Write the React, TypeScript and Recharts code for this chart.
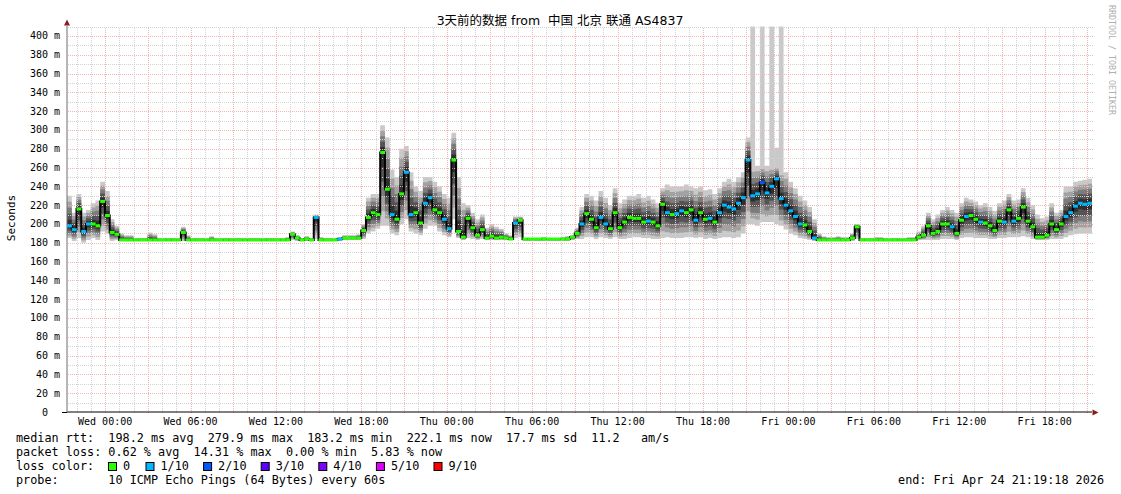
import React from 'react';
import { ComposedChart, Area, Line, XAxis, YAxis, ReferenceLine } from 'recharts';

// ---------- data (20-minute steps over 72 hours, values in ms) ----------
const medianRtt = [
  198, 194, 216, 192, 200, 200, 198, 224, 209, 191, 189, 183,
  183, 183, 183, 183, 183, 183, 183, 183, 183, 183, 183, 183,
  191, 183,
  183, 183, 183, 183, 183, 183, 183, 183, 183, 183, 183, 183, 183, 183, 183, 183, 183, 183, 183, 183, 183,
  189, 185, 183, 184, 183, 207, 183, 183, 183, 183, 184,
  185, 185, 185, 185, 193, 207, 212, 210, 276, 237, 210, 205, 232, 255, 210, 212, 201, 222, 228, 215,
  212, 205, 195, 268, 192, 186, 206, 196, 188, 194, 185, 187, 185, 186, 185, 184, 201, 204,
  184, 184, 184, 184, 184, 184, 184, 184, 184, 184, 186, 190,
  200, 211, 205, 196, 207, 200, 195, 212, 196, 202, 207, 206, 206, 202, 203, 202, 198, 221, 212, 210,
  211, 214, 212, 215, 204, 212, 205, 206, 202, 212, 220, 218, 216, 222, 228, 268, 230, 232, 244, 233,
  240, 248, 227, 220, 214, 208, 200, 199, 192, 185, 183,
  183, 183, 183, 183, 183, 183, 185, 197,
  183, 183, 183, 183, 183, 183, 183, 183, 183, 183, 183, 183,
  186, 188, 198, 190, 192, 200, 200, 197, 190, 204, 208, 209, 205, 202, 201, 198, 193, 203, 202, 215,
  203, 206, 218, 203, 197, 186, 186, 188, 200, 194, 200, 208, 212, 219, 222, 221, 222,
];

const smokeLow = [
  185, 182, 185, 180, 183, 185, 183, 192, 190, 182, 183, 182,
  182, 182, 182, 182, 182, 182, 182, 182, 182, 182, 182, 182,
  182, 182,
  182, 182, 182, 182, 182, 182, 182, 182, 182, 182, 182, 182, 182, 182, 182, 182, 182, 182, 182, 182, 182,
  183, 182, 182, 182, 182, 184, 182, 182, 182, 182, 182,
  183, 183, 183, 183, 184, 190, 192, 195, 198, 198, 190, 188, 200, 205, 192, 190, 188, 195, 198, 198,
  192, 188, 186, 205, 185, 183, 185, 184, 183, 184, 183, 183, 183, 183, 183, 183, 185, 186,
  182, 182, 182, 182, 182, 182, 182, 182, 182, 182, 183, 184,
  184, 186, 186, 184, 186, 185, 184, 186, 184, 184, 185, 186, 186, 185, 185, 184, 184, 185, 186, 185,
  185, 185, 186, 186, 185, 186, 184, 185, 184, 185, 186, 186, 185, 186, 190, 200, 200, 198, 202, 202,
  202, 200, 198, 194, 190, 188, 185, 184, 183, 182, 182,
  182, 182, 182, 182, 182, 182, 182, 184,
  182, 182, 182, 182, 182, 182, 182, 182, 182, 182, 182, 182,
  183, 183, 183, 183, 183, 184, 184, 184, 183, 185, 186, 186, 185, 185, 185, 184, 184, 185, 185, 186,
  186, 186, 187, 186, 184, 183, 183, 183, 184, 184, 184, 186, 188, 189, 190, 190, 190,
];

const smokeHigh = [
  230, 212, 232, 212, 215, 222, 225, 245, 235, 205, 198, 190,
  188, 188, 185, 185, 185, 191, 189, 185, 185, 185, 185, 185,
  197, 188,
  185, 185, 185, 185, 187, 185, 185, 185, 185, 185, 185, 185, 185, 185, 185, 185, 185, 185, 185, 185, 186,
  192, 188, 185, 187, 185, 210, 186, 185, 185, 185, 186,
  188, 188, 188, 189, 200, 228, 232, 232, 305, 292, 258, 250, 280, 283, 255, 240, 235, 250, 250, 245,
  240, 232, 228, 297, 250, 222, 220, 212, 205, 210, 196, 200, 197, 195, 190, 188, 208, 208,
  185, 185, 185, 185, 186, 185, 185, 185, 186, 187, 188, 196,
  218, 232, 230, 225, 235, 228, 220, 238, 222, 226, 230, 230, 232, 228, 230, 226, 222, 238, 242, 240,
  240, 240, 242, 240, 238, 240, 236, 237, 232, 238, 245, 248, 245, 250, 255, 292, 262, 262, 262, 262,
  262, 262, 258, 255, 245, 238, 230, 225, 218, 205, 190,
  187, 186, 186, 187, 186, 186, 190, 200,
  185, 185, 185, 186, 186, 185, 185, 185, 185, 185, 186, 186,
  192, 198, 212, 205, 210, 215, 218, 215, 212, 222, 228, 226, 224, 220, 222, 218, 214, 222, 225, 232,
  225, 226, 238, 228, 220, 210, 206, 208, 222, 212, 215, 240, 240, 245, 246, 247, 248,
];

// index into lossLegend / lossColors
const lossLevel = [
  1, 1, 0, 1, 1, 0, 0, 0, 0, 0, 0, 0,
  0, 0, 0, 0, 0, 0, 0, 0, 0, 0, 0, 0,
  0, 0,
  0, 0, 0, 0, 0, 0, 0, 0, 0, 0, 0, 0, 0, 0, 0, 0, 0, 0, 0, 0, 0,
  0, 0, 0, 0, 0, 1, 0, 0, 0, 0, 1,
  0, 0, 0, 0, 0, 0, 0, 0, 0, 0, 1, 0, 0, 1, 1, 0, 0, 1, 1, 0,
  0, 1, 1, 0, 0, 0, 0, 0, 0, 0, 0, 0, 0, 0, 0, 0, 1, 0,
  0, 0, 0, 0, 0, 0, 0, 0, 0, 0, 0, 0,
  1, 0, 0, 0, 1, 1, 0, 0, 0, 0, 0, 0, 0, 0, 1, 0, 0, 0, 1, 0,
  1, 1, 0, 0, 1, 0, 0, 1, 0, 1, 1, 1, 1, 1, 1, 1, 1, 1, 2, 1,
  1, 1, 1, 1, 1, 1, 1, 0, 0, 1, 0,
  0, 0, 0, 0, 0, 0, 0, 0,
  0, 0, 0, 0, 0, 0, 0, 0, 0, 0, 0, 0,
  0, 0, 0, 0, 0, 0, 0, 1, 0, 0, 1, 0, 0, 1, 0, 0, 0, 0, 1, 0,
  1, 0, 0, 0, 0, 0, 0, 0, 0, 0, 0, 1, 1, 1, 1, 1, 1,
];

// single outlier pings far above the smoke
const outlierIdx = [144, 146, 148, 149, 150];
const outlierTop = [410, 410, 410, 281, 410];

const lossLegend = ['0', '1/10', '2/10', '3/10', '4/10', '5/10', '9/10'];
const lossColors = ['#26ff00', '#00b8ff', '#0059ff', '#5e00ff', '#7e00ff', '#dd00ff', '#ff0000'];

const xTickLabels = [
  'Wed 00:00', 'Wed 06:00', 'Wed 12:00', 'Wed 18:00',
  'Thu 00:00', 'Thu 06:00', 'Thu 12:00', 'Thu 18:00',
  'Fri 00:00', 'Fri 06:00', 'Fri 12:00', 'Fri 18:00',
];
const yTicks = [0, 20, 40, 60, 80, 100, 120, 140, 160, 180, 200, 220, 240, 260, 280, 300, 320, 340, 360, 380, 400];

const titleText = '3天前的数据 from  中国 北京 联通 AS4837';
const legendRtt = 'median rtt:  198.2 ms avg  279.9 ms max  183.2 ms min  222.1 ms now  17.7 ms sd  11.2   am/s';
const legendLoss = 'packet loss: 0.62 % avg  14.31 % max  0.00 % min  5.83 % now';
const legendProbe = 'probe:       10 ICMP Echo Pings (64 Bytes) every 60s';
const endText = 'end: Fri Apr 24 21:19:18 2026';

// ---------- layout ----------
const W = 1121;
const H = 494;
const MARGIN = { top: 26, right: 29, bottom: 52, left: 8 };
const Y_AXIS_W = 59;
const X_AXIS_H = 30;
const PLOT_LEFT = MARGIN.left + Y_AXIS_W;
const PLOT_RIGHT = W - MARGIN.right;
const PLOT_BOTTOM = H - MARGIN.bottom - X_AXIS_H;
const PLOT_W = PLOT_RIGHT - PLOT_LEFT;

const SPAN_HOURS = 72;
const START_HOUR = 21 + 19 / 60 + 18 / 3600; // Tue 21:19:18
const Y_MAX = 410.6;

const MONO = "'DejaVu Sans Mono', monospace";
const RED_GRID = '#f6b4b4';
const GRAY_GRID = '#d2d2d2';

const N = medianRtt.length;
const STEP_H = SPAN_HOURS / N;
const STEP_PX = PLOT_W / N;

const BANDS = [
  { f: 1, color: '#c9c9c9' },
  { f: 0.8, color: '#a2a2a2' },
  { f: 0.6, color: '#7c7c7c' },
  { f: 0.4, color: '#545454' },
  { f: 0.2, color: '#2e2e2e' },
];

const rows: any[] = [];
for (let i = 0; i <= N; i++) {
  const j = Math.min(i, N - 1);
  const m = medianRtt[j];
  const lo = smokeLow[j];
  const hi = smokeHigh[j];
  const k0 = outlierIdx.indexOf(j);
  const row: any = { t: i * STEP_H, median: m, loss: lossLevel[j] };
  BANDS.forEach((b, k) => {
    const top = k === 0 && k0 >= 0 ? outlierTop[k0] : m + b.f * (hi - m);
    row['b' + k] = [m - b.f * (m - lo), top];
  });
  rows.push(row);
}

const firstMidnight = 24 - START_HOUR;
const labelTimes = xTickLabels.map((_, i) => firstMidnight + 6 * i);
const firstHour = Math.ceil(START_HOUR) - START_HOUR;
const hourLines: { t: number; major: boolean }[] = [];
for (let t = firstHour; t < SPAN_HOURS; t += 1) {
  const hod = Math.round(START_HOUR + t) % 24;
  hourLines.push({ t, major: hod % 3 === 0 });
}
const valueLines: { v: number; major: boolean }[] = [];
for (let v = 10; v <= Y_MAX; v += 10) valueLines.push({ v, major: v % 20 === 0 });

const snap = (v: number) => Math.round(v) + 0.5;
const keepSpaces = (s: string) => s.replace(/ /g, '\u00a0');

const gridShape = (color: string) => (p: any) => (
  <line
    x1={snap(p.x1)}
    y1={snap(p.y1)}
    x2={snap(p.x2)}
    y2={snap(p.y2)}
    stroke={color}
    strokeWidth={1}
    strokeDasharray="1 1"
    shapeRendering="crispEdges"
  />
);

const YTick = (props: any) => {
  const { x, y, payload } = props;
  const v = payload.value;
  const label = v === 0 ? '0' : `${v} m`;
  return (
    <text x={v === 0 ? x - 12 : x} y={y + 3.5} textAnchor="end" fontFamily={MONO} fontSize={10} fill="#000">
      {keepSpaces(label)}
    </text>
  );
};

const XTick = (props: any) => {
  const { x, y, payload } = props;
  const idx = labelTimes.findIndex((t) => Math.abs(t - payload.value) < 1e-6);
  return (
    <text x={x} y={y + 7} textAnchor="middle" fontFamily={MONO} fontSize={10} fill="#000">
      {idx >= 0 ? keepSpaces(xTickLabels[idx]) : ''}
    </text>
  );
};

const LossDot = (props: any) => {
  const { cx, cy, index } = props;
  if (index >= N || cx == null || cy == null) return <g key={`e${index}`} />;
  return (
    <rect
      key={`l${index}`}
      x={cx}
      y={cy - 1.5}
      width={STEP_PX + 0.2}
      height={3}
      fill={lossColors[lossLevel[index]]}
    />
  );
};

export default function App() {
  const legendX = 16;
  const boxX = [108, 145.5, 203.1, 260.7, 318.3, 375.9, 433.5];
  return (
    <div style={{ position: 'absolute', left: 0, top: 0, width: W, height: H, background: '#fff' }}>
      <div style={{ position: 'absolute', left: 0, top: 0 }}>
        <ComposedChart width={W} height={H} data={rows} margin={MARGIN}>
          <XAxis
            type="number"
            dataKey="t"
            domain={[0, SPAN_HOURS]}
            allowDataOverflow
            ticks={labelTimes}
            interval={0}
            height={X_AXIS_H}
            tickSize={0}
            tickMargin={6}
            tickLine={false}
            axisLine={{ stroke: '#000', strokeWidth: 1 }}
            tick={<XTick />}
          />
          <YAxis
            type="number"
            domain={[0, Y_MAX]}
            allowDataOverflow
            ticks={yTicks}
            interval={0}
            width={Y_AXIS_W}
            tickSize={0}
            tickMargin={7}
            tickLine={false}
            axisLine={{ stroke: '#6e6e6e', strokeWidth: 1 }}
            tick={<YTick />}
          />
          {BANDS.map((b, k) => (
            <Area
              key={'band' + k}
              type="stepAfter"
              dataKey={'b' + k}
              stroke="none"
              fill={b.color}
              fillOpacity={1}
              isAnimationActive={false}
              dot={false}
              activeDot={false}
            />
          ))}
          {valueLines.map((g) => (
            <ReferenceLine
              key={'h' + g.v}
              y={g.v}
              shape={gridShape(g.major ? RED_GRID : GRAY_GRID)}
            />
          ))}
          {hourLines.map((g, i) => (
            <ReferenceLine
              key={'v' + i}
              x={g.t}
              shape={gridShape(g.major ? RED_GRID : GRAY_GRID)}
            />
          ))}
          <Line
            type="stepAfter"
            dataKey="median"
            stroke="#000"
            strokeWidth={2}
            isAnimationActive={false}
            dot={(p: any) => LossDot(p)}
            activeDot={false}
          />
        </ComposedChart>
      </div>
      <svg
        width={W}
        height={H}
        style={{ position: 'absolute', left: 0, top: 0, pointerEvents: 'none' }}
      >
        <text
          x={560}
          y={25}
          textAnchor="middle"
          fontFamily="'DejaVu Sans', 'Noto Sans CJK SC', sans-serif"
          fontSize={12.5}
          fill="#000"
        >
          {keepSpaces(titleText)}
        </text>
        <text
          transform="translate(15,218) rotate(-90)"
          textAnchor="middle"
          fontFamily={MONO}
          fontSize={11}
          fill="#000"
        >
          Seconds
        </text>
        <text
          transform="translate(1109,5) rotate(90)"
          textAnchor="start"
          fontFamily={MONO}
          fontSize={8.3}
          fill="#b0b0b0"
        >
          {keepSpaces('RRDTOOL / TOBI OETIKER')}
        </text>
        {/* axis arrows */}
        <polygon points={`${PLOT_LEFT},19.5 ${PLOT_LEFT - 3},25.5 ${PLOT_LEFT + 3},25.5`} fill="#8b1c1c" />
        <line x1={PLOT_LEFT - 5} y1={PLOT_BOTTOM + 0.5} x2={PLOT_LEFT} y2={PLOT_BOTTOM + 0.5} stroke="#000" />
        <polygon
          points={`${PLOT_RIGHT + 6.5},${PLOT_BOTTOM + 0.5} ${PLOT_RIGHT + 0.5},${PLOT_BOTTOM - 2.5} ${PLOT_RIGHT + 0.5},${PLOT_BOTTOM + 3.5}`}
          fill="#8b1c1c"
        />
        {/* legend */}
        <g fontFamily={MONO} fontSize={11.8} fill="#000">
          <text x={legendX} y={442}>{keepSpaces(legendRtt)}</text>
          <text x={legendX} y={456}>{keepSpaces(legendLoss)}</text>
          <text x={legendX} y={470}>{keepSpaces('loss color:')}</text>
          {lossLegend.map((l, i) => (
            <g key={l}>
              <rect x={boxX[i] + 0.5} y={462.5} width={8} height={8} fill={lossColors[i]} stroke="#000" strokeWidth={1} />
              <text x={boxX[i] + 15} y={470}>{l}</text>
            </g>
          ))}
          <text x={legendX} y={484}>{keepSpaces(legendProbe)}</text>
          <text x={1104} y={484} textAnchor="end">{keepSpaces(endText)}</text>
        </g>
      </svg>
    </div>
  );
}
